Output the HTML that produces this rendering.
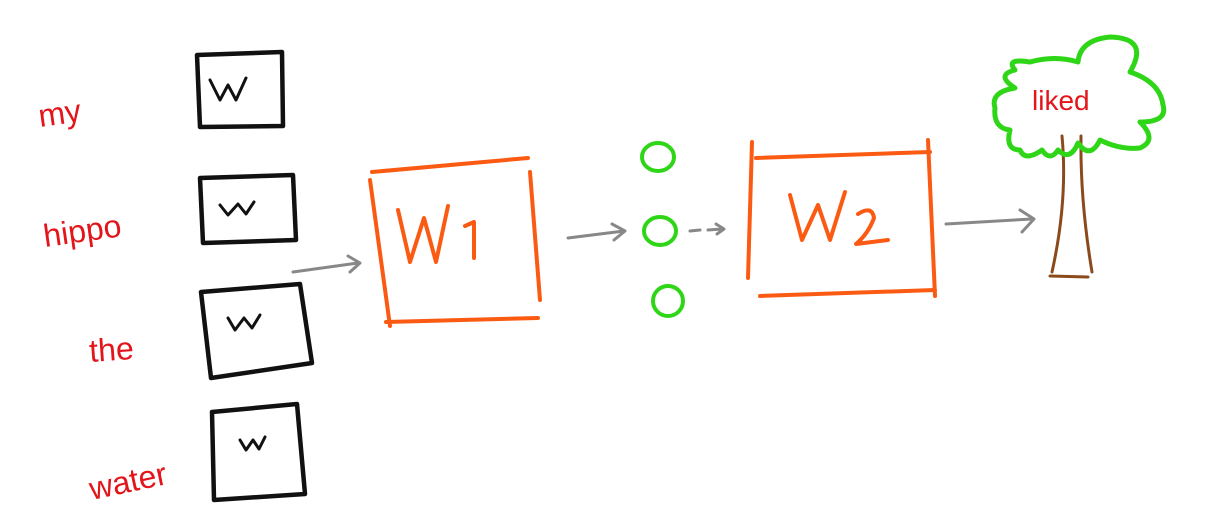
<!DOCTYPE html>
<html><head><meta charset="utf-8"><style>
html,body{margin:0;padding:0;background:#fff;width:1212px;height:524px;overflow:hidden}
text{font-family:"Liberation Sans",sans-serif}
</style></head><body>
<svg width="1212" height="524" viewBox="0 0 1212 524" fill="none" stroke-linecap="round" stroke-linejoin="round">
<g fill="#e3151b" font-size="32">
<text x="40" y="127" transform="rotate(-8 40 127)">my</text>
<text x="45" y="247" transform="rotate(-8 45 247)">hippo</text>
<text x="90" y="362" transform="rotate(-4 90 362)">the</text>
<text x="92" y="500" transform="rotate(-12 92 500)">water</text>
</g>
<g stroke="#111" stroke-width="4.5">
<path d="M197 55 L282 52 L283 126 L200 127 Z"/>
<path d="M200 178 L293 175 L296 240 L203 243 Z"/>
<path d="M201 292 L300 284 L312 363 L211 378 Z"/>
<path d="M212 412 L297 404 L305 494 L214 500 Z"/>
<path d="M210 80 L220 100 L228 85 L236 100 L246 78" stroke-width="3"/>
<path d="M220 205 L228 215 L238 204 L246 214 L254 202" stroke-width="3"/>
<path d="M228 318 L235 330 L244 318 L252 328 L260 315" stroke-width="3"/>
<path d="M240 440 L246 450 L253 440 L259 449 L265 437" stroke-width="3"/>
</g>
<g stroke="#888" stroke-width="3">
<path d="M293 272 L358 263 M348 256 L360 263 L350 272"/>
<path d="M568 238 L624 231 M612 224 L625 231 L614 240"/>
<path d="M690 231 L700 230 M708 230 L722 229 M716 224 L724 229 L717 234"/>
<path d="M946 224 L1032 219 M1020 210 L1034 219 L1022 232"/>
</g>
<g stroke="#fb5a12" stroke-width="4">
<path d="M372 172 L528 158 M370 180 L390 326 M386 322 L538 318 M530 172 L540 300"/>
<path d="M398 210 L410 262 L424 218 L436 262 L448 206 M465 226 L474 222 L474 258"/>
<path d="M752 142 L748 278 M756 158 L930 152 M760 296 L935 290 M928 140 L935 296"/>
<path d="M790 195 L802 240 L818 205 L830 240 L845 192 M858 214 Q872 205 874 218 Q868 234 856 244 L888 240"/>
</g>
<g stroke="#2fd617" stroke-width="4">
<ellipse cx="658" cy="157" rx="16" ry="14"/>
<ellipse cx="660" cy="231" rx="16" ry="14"/>
<ellipse cx="668" cy="301" rx="15" ry="15"/>
</g>
<g>
<path d="M1062 136 Q1068 200 1052 272 M1081 136 Q1080 200 1092 272 M1050 276 L1088 277" stroke="#8b4a1c" stroke-width="3"/>
<path d="M1015 70 Q1005 58 1030 62 Q1055 55 1078 62 Q1080 40 1110 37 Q1150 38 1130 72 Q1160 82 1163 105 Q1168 122 1140 122 Q1158 140 1140 148 Q1120 150 1100 140 Q1090 160 1078 143 Q1070 162 1058 150 Q1050 162 1042 150 Q1025 162 1020 150 Q1005 150 1010 130 Q993 128 995 108 Q990 92 1015 88 Q995 75 1015 70 Z" stroke="#2fd617" stroke-width="5"/>
<text x="1032" y="110" fill="#e3151b" font-size="28">liked</text>
</g>
</svg>
</body></html>
